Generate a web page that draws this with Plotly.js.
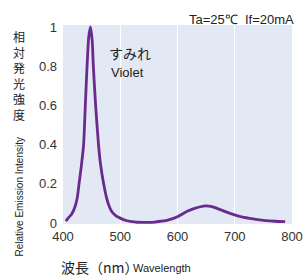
<!DOCTYPE html>
<html>
<head>
<meta charset="utf-8">
<script src="https://cdn.plot.ly/plotly-3.0.1.min.js"></script>
<style>html,body{margin:0;padding:0;background:#fff;}#chart{width:303px;height:276px;}</style>
</head>
<body>
<div id="chart"></div>
<script>
const wavelength = [405,409,415,421,425,428,432,436,439,442,445,448,451,453,457,462,466,471,476,481,486,492,500,510,520,530,540,550,560,570,583,600,618,630,640,649,660,669,680,697,710,726,740,754,770,788];
const intensity  = [0.01,0.025,0.045,0.083,0.13,0.2,0.29,0.4,0.6,0.8,0.95,1.0,0.93,0.8,0.6,0.4,0.29,0.2,0.13,0.083,0.055,0.038,0.025,0.013,0.007,0.004,0.003,0.003,0.005,0.009,0.015,0.032,0.061,0.075,0.083,0.087,0.084,0.075,0.062,0.044,0.033,0.024,0.017,0.012,0.009,0.007];
const xTicks = [400,500,600,700,800];
const yTicks = [0,0.2,0.4,0.6,0.8,1];
const yGrid = [0.2,0.4,0.6,0.8];
const yTitleJa = "相対発光強度";
const yTitleEn = "Relative Emission Intensity";
const xTitleJa = "波長（nm）";
const xTitleEn = "Wavelength";
const labelJa = "すみれ";
const labelEn = "Violet";
const condition = "Ta=25℃  If=20mA";

const W = 303, H = 276, L = 63, R = 11, T = 25, B = 52;
const pw = W - L - R, ph = H - T - B;
const px = x => (x - L) / pw;
const py = y => (H - B - y) / ph;

const ann = [];
ann.push({text: yTitleJa.split('').join('<br>'), xref:'paper', yref:'paper', x: px(19), y: py(26), xanchor:'center', yanchor:'top', showarrow:false, font:{family:'Noto Sans CJK JP', size:12, color:'#222'}});
ann.push({text: yTitleEn, xref:'paper', yref:'paper', x: px(18.5), y: py(197), xanchor:'center', yanchor:'middle', textangle:-90, showarrow:false, font:{family:'Liberation Sans, Arial', size:10, color:'#222'}});
ann.push({text: xTitleJa, xref:'paper', yref:'paper', x: px(59), y: py(267), xanchor:'left', yanchor:'middle', showarrow:false, font:{family:'Noto Sans CJK JP', size:14, color:'#222'}});
ann.push({text: xTitleEn, xref:'paper', yref:'paper', x: px(131), y: py(268), xanchor:'left', yanchor:'middle', showarrow:false, font:{family:'Liberation Sans, Arial', size:11, color:'#222'}});
ann.push({text: labelJa, xref:'paper', yref:'paper', x: px(107), y: py(53), xanchor:'left', yanchor:'middle', showarrow:false, font:{family:'Noto Sans CJK JP', size:14, color:'#222'}});
ann.push({text: labelEn, xref:'paper', yref:'paper', x: px(109), y: py(72), xanchor:'left', yanchor:'middle', showarrow:false, font:{family:'Liberation Sans, Arial', size:13, color:'#222'}});
ann.push({text: condition, xref:'paper', yref:'paper', x: px(296), y: py(19), xanchor:'right', yanchor:'middle', showarrow:false, font:{family:'Liberation Sans, Arial', size:13, color:'#222'}});

const yr = [-0.005, 1.01];
const data = [{x: wavelength, y: intensity, type:'scatter', mode:'lines', yaxis:'y2', line:{color:'#6a2a8e', width:2.8, shape:'spline', smoothing:0.6}, hoverinfo:'none'}];
const layout = {
  width: W, height: H,
  margin:{l:L, r:R, t:T, b:B, pad:0},
  paper_bgcolor:'#ffffff', plot_bgcolor:'#e2e9f5',
  showlegend:false,
  font:{family:'Liberation Sans, Arial', size:13, color:'#333'},
  xaxis:{range:[400,800], tickvals:xTicks, ticktext:xTicks.map(String), showgrid:true, gridcolor:'#ffffff', gridwidth:1, zeroline:false, showline:false, ticks:'', tickfont:{size:13, color:'#333'}, ticklabelstandoff:3, ticklabeloverflow:'allow'},
  yaxis:{range:yr, tickvals:yGrid, showticklabels:false, showgrid:true, gridcolor:'#ffffff', gridwidth:1, zeroline:false, showline:false, ticks:''},
  yaxis2:{range:yr, overlaying:'y', side:'left', tickvals:yTicks, ticktext:yTicks.map(String), showgrid:false, zeroline:false, showline:false, ticks:'', tickfont:{size:13, color:'#333'}, ticklabelstandoff:5},
  annotations: ann
};
Plotly.newPlot('chart', data, layout, {staticPlot:true, displayModeBar:false});
</script>
</body>
</html>
